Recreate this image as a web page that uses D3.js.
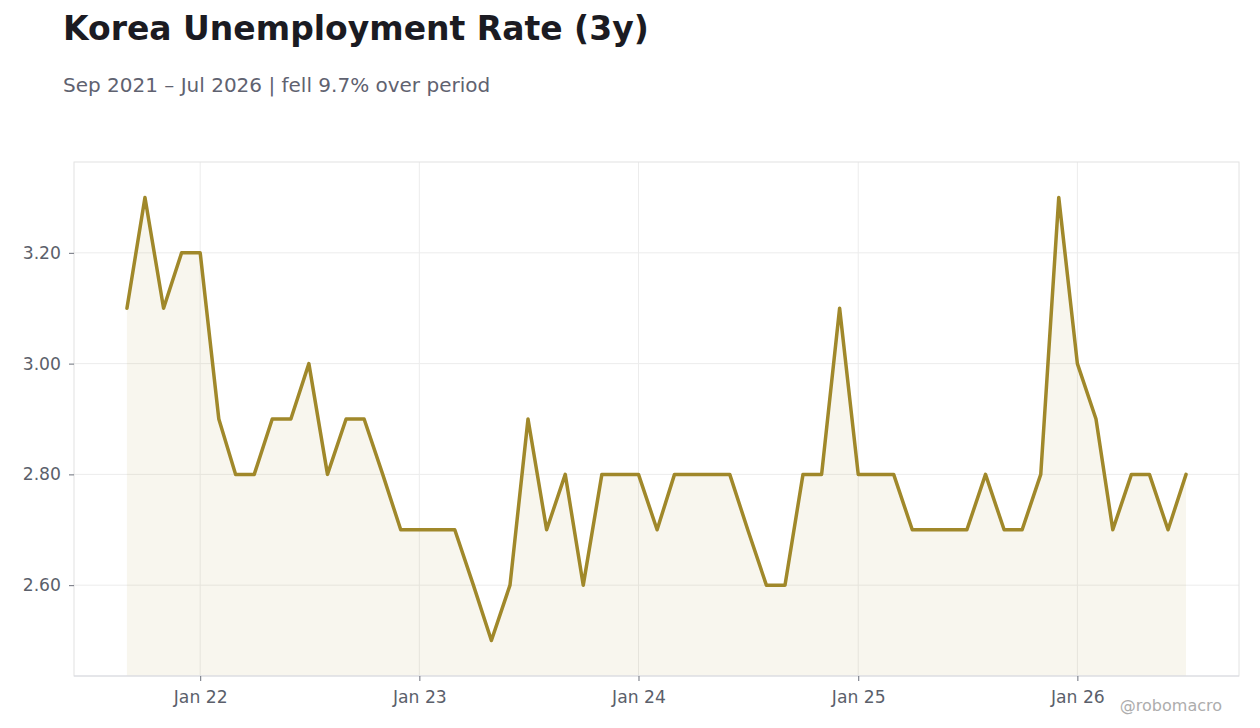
<!DOCTYPE html>
<html>
<head>
<meta charset="utf-8">
<script src="https://cdn.jsdelivr.net/npm/d3@7"></script>
<style>
  body { margin: 0; background: #fff; }
  svg { display: block; font-family: "DejaVu Sans", sans-serif; }
  .tick text { fill: #5b5f6b; font-size: 17.2px; font-family: "DejaVu Sans", sans-serif; }
  .tick line { stroke: #6b6f7a; }
  .domain { display: none; }
</style>
</head>
<body>
<svg id="chart" width="1260" height="728"></svg>
<script>
WIDTH = 1260
HEIGHT = 728
LINE_COLOR = "#a0882a"

var startMonth = "2021-09";
var rates = [
    3.1, 3.3, 3.1, 3.2,
    3.2, 2.9, 2.8, 2.8, 2.9, 2.9, 3.0, 2.8, 2.9, 2.9, 2.8, 2.7,
    2.7, 2.7, 2.7, 2.6, 2.5, 2.6, 2.9, 2.7, 2.8, 2.6, 2.8, 2.8,
    2.8, 2.7, 2.8, 2.8, 2.8, 2.8, 2.7, 2.6, 2.6, 2.8, 2.8, 3.1,
    2.8, 2.8, 2.8, 2.7, 2.7, 2.7, 2.7, 2.8, 2.7, 2.7, 2.8, 3.3,
    3.0, 2.9, 2.7, 2.8, 2.8, 2.7, 2.8
];
var yTicks = [2.6, 2.8, 3.0, 3.2];
var xTickYears = [2022, 2023, 2024, 2025, 2026];

var parseMonth = d3.timeParse("%Y-%m");
var first = parseMonth(startMonth);
var data = rates.map(function(v, i) {
    return {date: d3.timeMonth.offset(first, i), value: v};
});

var margin = {top: 162, right: 21, bottom: 52, left: 74};
var innerW = WIDTH - margin.left - margin.right;
var innerH = HEIGHT - margin.top - margin.bottom;

var svg = d3.select("#chart");

// title block
svg.append("text")
    .attr("x", 63).attr("y", 40)
    .attr("font-size", 33).attr("font-weight", "bold")
    .attr("fill", "#1b1b22")
    .text("Korea Unemployment Rate (3y)");
svg.append("text")
    .attr("x", 63).attr("y", 92)
    .attr("font-size", 20)
    .attr("fill", "#5f6270")
    .text("Sep 2021 \u2013 Jul 2026 | fell 9.7% over period");

var g = svg.append("g")
    .attr("transform", "translate(" + margin.left + "," + margin.top + ")");

// x scale padded 5% each side of the data
var ext = d3.extent(data, function(d) { return d.date; });
var span = ext[1] - ext[0];
var x = d3.scaleTime()
    .domain([new Date(+ext[0] - span * 0.05), new Date(+ext[1] + span * 0.05)])
    .range([0, innerW]);

var yMin = d3.min(rates), yMax = d3.max(rates);
var yPad = (yMax - yMin) * 0.08;
var y = d3.scaleLinear()
    .domain([yMin - yPad, yMax + yPad])
    .range([innerH, 0]);

var xTicks = xTickYears.map(function(yr) { return new Date(yr, 0, 1); });

// grid
g.append("g").selectAll("line.hgrid")
    .data(yTicks).enter().append("line")
    .attr("x1", 0).attr("x2", innerW)
    .attr("y1", function(d) { return y(d); })
    .attr("y2", function(d) { return y(d); })
    .attr("stroke", "#ececec");
g.append("g").selectAll("line.vgrid")
    .data(xTicks).enter().append("line")
    .attr("y1", 0).attr("y2", innerH)
    .attr("x1", function(d) { return x(d); })
    .attr("x2", function(d) { return x(d); })
    .attr("stroke", "#ececec");

// area + line
var area = d3.area()
    .x(function(d) { return x(d.date); })
    .y0(innerH)
    .y1(function(d) { return y(d.value); });
g.append("path")
    .datum(data)
    .attr("d", area)
    .attr("fill", LINE_COLOR)
    .attr("fill-opacity", 0.08);

var line = d3.line()
    .x(function(d) { return x(d.date); })
    .y(function(d) { return y(d.value); });
g.append("path")
    .datum(data)
    .attr("d", line)
    .attr("fill", "none")
    .attr("stroke", LINE_COLOR)
    .attr("stroke-width", 3.5)
    .attr("stroke-linejoin", "round")
    .attr("stroke-linecap", "round");

// frame
g.append("rect")
    .attr("x", 0).attr("y", 0)
    .attr("width", innerW).attr("height", innerH)
    .attr("fill", "none")
    .attr("stroke", "#e2e2e2");
g.append("line")
    .attr("x1", 0).attr("x2", innerW)
    .attr("y1", innerH).attr("y2", innerH)
    .attr("stroke", "#d9dbe2");

// axes
g.append("g")
    .attr("transform", "translate(0," + innerH + ")")
    .call(d3.axisBottom(x)
        .tickValues(xTicks)
        .tickSize(5)
        .tickPadding(10)
        .tickFormat(d3.timeFormat("Jan %y")));
g.append("g")
    .call(d3.axisLeft(y)
        .tickValues(yTicks)
        .tickSize(5)
        .tickPadding(8)
        .tickFormat(d3.format(".2f")));

// watermark
svg.append("text")
    .attr("x", 1222).attr("y", 711)
    .attr("text-anchor", "end")
    .attr("font-size", 16)
    .attr("fill", "#adadad")
    .text("@robomacro");
</script>
</body>
</html>
